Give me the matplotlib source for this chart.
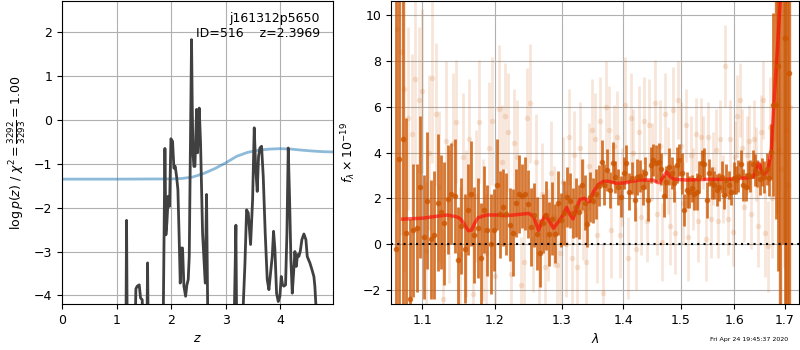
import matplotlib
matplotlib.use('Agg')
import matplotlib.pyplot as plt
from matplotlib.ticker import FormatStrFormatter, NullLocator

plt.rcParams['font.size'] = 9

# --- p(z) panel ---
pz_z = [0.0, 1.10, 1.171, 1.183, 1.196, 1.30, 1.342, 1.354, 1.379, 1.415, 1.44, 1.47, 1.489,
        1.53, 1.558, 1.568, 1.580, 1.70, 1.855, 1.886, 1.904, 1.922, 1.947, 1.971, 1.996,
        2.026, 2.051, 2.075, 2.10, 2.124, 2.148, 2.167, 2.191, 2.209, 2.234, 2.265, 2.289,
        2.313, 2.332, 2.374, 2.386, 2.400, 2.417, 2.436, 2.466, 2.484, 2.515, 2.539, 2.576,
        2.625, 2.649, 2.672, 2.80, 3.155, 3.187, 3.200, 3.25, 3.309, 3.352, 3.383, 3.413,
        3.456, 3.493, 3.523, 3.548, 3.578, 3.602, 3.627, 3.657, 3.688, 3.724, 3.761, 3.792,
        3.822, 3.853, 3.877, 3.902, 3.932, 3.963, 3.993, 4.018, 4.042, 4.067, 4.097, 4.122,
        4.146, 4.171, 4.195, 4.22, 4.244, 4.268, 4.293, 4.317, 4.341, 4.366, 4.396, 4.433,
        4.47, 4.494, 4.519, 4.543, 4.58, 4.616, 4.634, 4.665, 4.70, 4.97]
pz_logp = [-9.0, -8.0, -5.0, -2.29, -5.0, -8.0, -4.6, -3.85, -3.79, -3.76, -4.06, -4.10, -5.0,
           -7.0, -4.6, -3.26, -4.8, -8.0, -4.6, -0.65, -2.62, -2.35, -1.74, -1.97, -0.43,
           -0.49, -1.10, -1.06, -1.29, -1.59, -2.73, -3.72, -2.92, -2.92, -3.79, -4.02, -3.76,
           -3.64, -3.11, 1.83, 0.40, -0.75, -1.06, -1.06, 0.24, -0.75, 0.27, -0.52, -2.58,
           -3.72, -1.70, -4.6, -8.0, -4.6, -2.40, -4.6, -8.0, -4.6, -3.30, -2.05, -2.12,
           -2.84, -1.82, -0.18, -1.06, -1.63, -0.83, -0.64, -0.60, -1.29, -2.58, -3.64, -3.87,
           -3.49, -3.11, -2.54, -2.96, -3.95, -4.14, -4.02, -3.57, -3.76, -3.79, -3.76, -2.58,
           -0.64, -1.82, -3.19, -3.95, -3.49, -3.00, -3.34, -3.07, -3.11, -3.00, -2.73, -2.60,
           -2.73, -3.11, -3.19, -3.26, -3.41, -3.57, -3.79, -4.5, -6.0, -8.0]

prior_z = [0.0, 1.0, 2.0, 2.2, 2.4, 2.6, 2.8, 3.0, 3.2, 3.4, 3.6, 3.8, 4.0, 4.2, 4.4, 4.6, 4.8, 4.97]
prior_logp = [-1.35, -1.35, -1.345, -1.335, -1.30, -1.22, -1.11, -0.98, -0.83, -0.74, -0.69,
              -0.665, -0.655, -0.665, -0.69, -0.71, -0.725, -0.73]

# --- spectrum panel ---
dark_wave = [1.0650, 1.0696, 1.0742, 1.0788, 1.0834, 1.0880, 1.0926, 1.0972, 1.1018, 1.1064,
             1.1110, 1.1156, 1.1202, 1.1248, 1.1294, 1.1340, 1.1386, 1.1432, 1.1478, 1.1524,
             1.1570, 1.1616, 1.1662, 1.1708, 1.1754, 1.1800, 1.1846, 1.1892, 1.1938, 1.1984,
             1.2030, 1.2076, 1.2122, 1.2168, 1.2214, 1.2260, 1.2306, 1.2352, 1.2398, 1.2444,
             1.2490, 1.2536, 1.2582, 1.2628, 1.2674, 1.2720, 1.2766, 1.2812, 1.2858, 1.2904,
             1.2950, 1.2996, 1.3042, 1.3088, 1.3134, 1.3180, 1.3226, 1.3272, 1.3318, 1.3364,
             1.3410, 1.3456, 1.3502, 1.3548, 1.3594, 1.3640, 1.3686, 1.3732, 1.3778, 1.3824,
             1.3870, 1.3916, 1.3962, 1.4008, 1.4054, 1.4100, 1.4146, 1.4192, 1.4238, 1.4284,
             1.4330, 1.4376, 1.4422, 1.4468, 1.4514, 1.4560, 1.4606, 1.4652, 1.4698, 1.4744,
             1.4790, 1.4836, 1.4882, 1.4928, 1.4974, 1.5020, 1.5066, 1.5112, 1.5158, 1.5204,
             1.5250, 1.5296, 1.5342, 1.5388, 1.5434, 1.5480, 1.5526, 1.5572, 1.5618, 1.5664,
             1.5710, 1.5756, 1.5802, 1.5848, 1.5894, 1.5940, 1.5986, 1.6032, 1.6078, 1.6124,
             1.6170, 1.6216, 1.6262, 1.6308, 1.6354, 1.6400, 1.6446, 1.6492, 1.6538, 1.6584,
             1.6630, 1.6676, 1.6722, 1.6768, 1.6814, 1.6860, 1.6906, 1.6952, 1.6998, 1.7044,
             1.7090]
dark_flux = [-0.2, 3.7, 4.6, 0.5, -2.4, 0.6, 0.7, 2.5, 0.3, 1.9,
             0.2, 0.4, 1.8, 1.4, 0.9, 1.95, 2.2, 2.1, -0.7, 0.8,
             -0.2, 1.5, 2.2, 0.4, 0.7, -0.6, 1.5, 0.6, 0.0, 0.6,
             2.6, 1.3, 1.6, 1.3, 0.85, 0.5, 1.8, 2.2, 2.1, 2.2,
             1.75, 0.75, 1.25, 0.45, -0.4, 0.9, 1.25, 0.45, 1.1, 0.45,
             1.8, 1.05, 1.35, 2.05, 1.9, 1.35, 1.6, 1.4, 2.6, 1.8,
             0.87, 2.05, 1.9, 2.2, 2.55, 3.57, 2.6, 3.24, 2.36, 3.56,
             2.94, 2.5, 2.07, 3.09, 3.53, 2.29, 2.87, 1.92, 2.94, 2.97,
             2.5, 3.09, 1.92, 3.45, 3.67, 3.53, 3.6, 3.3, 2.1, 2.73,
             3.38, 3.09, 2.65, 3.45, 3.67, 3.09, 1.49, 2.36, 2.29, 2.43,
             2.2, 2.29, 2.94, 3.53, 3.5, 1.92, 3.12, 2.65, 2.58, 2.36,
             2.5, 2.94, 2.14, 2.8, 2.58, 2.29, 2.87, 2.8, 2.97, 3.5,
             2.58, 2.5, 3.02, 2.97, 3.5, 3.24, 3.09, 2.83, 3.16, 2.94,
             3.3, 2.9, 4.04, 6.1, 6.1, 7.8, 12.0, 15.0, 9.0, 11.0,
             7.5]
dark_err = [15, 15, 15, 5.0, 3.5, 2.9, 2.8, 3.1, 2.7, 3.0,
            2.6, 2.8, 3.0, 2.5, 2.7, 2.4, 2.2, 2.5, 2.3, 2.1,
            2.4, 2.0, 2.3, 2.1, 2.2, 2.4, 1.9, 2.0, 2.2, 1.8,
            2.0, 1.9, 1.7, 1.8, 1.6, 1.9, 1.5, 1.7, 1.4, 1.6,
            1.5, 1.7, 1.4, 1.6, 1.5, 1.3, 1.5, 1.4, 1.6, 1.3,
            1.4, 1.2, 1.4, 1.3, 1.2, 1.1, 1.3, 1.2, 1.1, 1.2,
            1.0, 1.1, 1.0, 1.1, 0.9, 1.0, 0.9, 0.9, 0.8, 0.9,
            0.7, 0.8, 0.9, 0.7, 0.8, 0.8, 0.7, 0.9, 0.8, 0.7,
            0.8, 0.7, 0.9, 0.8, 0.7, 0.8, 0.8, 0.7, 0.9, 0.7,
            0.8, 0.7, 0.8, 0.8, 0.7, 0.9, 0.7, 0.8, 0.7, 0.6,
            0.7, 0.8, 0.7, 0.6, 0.7, 0.8, 0.6, 0.7, 0.6, 0.7,
            0.6, 0.7, 0.6, 0.7, 0.6, 0.6, 0.7, 0.6, 0.7, 0.6,
            0.7, 0.6, 0.6, 0.7, 0.6, 0.7, 0.6, 0.7, 0.6, 0.7,
            0.7, 0.8, 1.2, 4.0, 5.0, 9.0, 15, 15, 15, 15,
            15]

light_wave = [1.0673, 1.0719, 1.0765, 1.0811, 1.0857, 1.0903, 1.0949, 1.0995, 1.1041, 1.1087,
              1.1133, 1.1179, 1.1225, 1.1271, 1.1317, 1.1363, 1.1409, 1.1455, 1.1501, 1.1547,
              1.1593, 1.1639, 1.1685, 1.1731, 1.1777, 1.1823, 1.1869, 1.1915, 1.1961, 1.2007,
              1.2053, 1.2099, 1.2145, 1.2191, 1.2237, 1.2283, 1.2329, 1.2375, 1.2421, 1.2467,
              1.2513, 1.2559, 1.2605, 1.2651, 1.2697, 1.2743, 1.2789, 1.2835, 1.2881, 1.2927,
              1.2973, 1.3019, 1.3065, 1.3111, 1.3157, 1.3203, 1.3249, 1.3295, 1.3341, 1.3387,
              1.3433, 1.3479, 1.3525, 1.3571, 1.3617, 1.3663, 1.3709, 1.3755, 1.3801, 1.3847,
              1.3893, 1.3939, 1.3985, 1.4031, 1.4077, 1.4123, 1.4169, 1.4215, 1.4261, 1.4307,
              1.4353, 1.4399, 1.4445, 1.4491, 1.4537, 1.4583, 1.4629, 1.4675, 1.4721, 1.4767,
              1.4813, 1.4859, 1.4905, 1.4951, 1.4997, 1.5043, 1.5089, 1.5135, 1.5181, 1.5227,
              1.5273, 1.5319, 1.5365, 1.5411, 1.5457, 1.5503, 1.5549, 1.5595, 1.5641, 1.5687,
              1.5733, 1.5779, 1.5825, 1.5871, 1.5917, 1.5963, 1.6009, 1.6055, 1.6101, 1.6147,
              1.6193, 1.6239, 1.6285, 1.6331, 1.6377, 1.6423, 1.6469, 1.6515, 1.6561, 1.6607,
              1.6653, 1.6699, 1.6745, 1.6791, 1.6837, 1.6883, 1.6929, 1.6975, 1.7021, 1.7067,
              1.7113]
light_flux = [9.4, 8.4, 6.8, 5.5, 4.8, 7.2, 6.3, 6.7, -0.3, 4.0,
              7.25, 5.7, 2.5, -2.4, 4.5, 1.2, 4.4, 5.35, -0.5, 3.8,
              0.9, 4.6, -2.2, 2.1, 5.35, 0.6, -0.4, 4.2, 5.4, -1.4,
              5.9, 3.6, 5.6, 4.9, -1.3, 4.4, 3.8, -1.8, -0.8, 5.5,
              6.15, 0.2, 3.6, -0.4, 2.2, -1.0, 0.4, 3.1, 1.2, -0.9,
              -0.4, 2.7, 0.0, 4.7, -0.6, 3.9, -1.0, 4.2, 1.5, -0.8,
              3.4, 5.0, 4.6, 0.4, 5.4, -2.15, 6.0, 5.0, 0.6, 4.3,
              4.7, 0.4, 2.5, 6.1, -0.6, 5.5, 4.0, -0.2, 4.9, 1.2,
              5.4, 1.0, 5.2, 3.6, 6.15, 1.3, 4.3, 0.1, 5.7, 3.2,
              0.8, 5.86, 0.5, 6.3, 4.3, 1.8, 5.2, 0.3, 3.9, 2.4,
              4.8, 1.0, 4.7, 4.0, 0.2, 4.7, 1.1, 3.3, 4.1, 1.0,
              4.6, 2.4, 7.8, 1.1, 4.6, 0.54, 3.8, 5.6, 6.3, 4.2,
              1.6, 3.9, 4.5, 1.3, 4.6, 3.5, 0.8, 4.9, 6.3, 0.47,
              -0.1, 5.1, 2.0, 8.0, 6.3, 4.1, 3.3, 9.0, 5.0, 2.6,
              6.0]
light_err = [8, 8, 8, 4.0, 3.5, 3.8, 3.2, 3.6, 3.0, 3.4,
             3.7, 3.1, 3.3, 3.0, 3.5, 2.9, 3.1, 2.7, 3.0, 2.8,
             3.2, 2.6, 3.0, 2.9, 2.7, 3.1, 2.6, 2.9, 2.8, 2.6,
             2.8, 2.5, 2.3, 2.6, 2.2, 2.4, 2.5, 2.1, 2.4, 2.2,
             2.6, 2.3, 2.1, 2.5, 2.2, 2.4, 2.0, 2.3, 2.2, 2.1,
             2.4, 2.0, 2.3, 2.1, 2.2, 1.9, 2.3, 2.0, 2.2, 2.1,
             1.9, 2.2, 2.0, 2.1, 1.9, 2.2, 2.0, 1.9, 2.1, 1.8,
             2.0, 1.9, 1.7, 2.1, 1.8, 2.0, 1.9, 1.8, 2.0, 1.7,
             1.9, 1.8, 2.0, 1.7, 1.9, 1.8, 2.0, 1.7, 1.8, 1.9,
             1.7, 1.9, 1.8, 1.7, 1.9, 1.8, 1.6, 1.9, 1.7, 1.8,
             1.6, 1.8, 1.7, 1.6, 1.8, 1.5, 1.7, 1.6, 1.8, 1.6,
             1.7, 1.5, 1.8, 1.6, 1.7, 1.5, 1.6, 1.8, 1.6, 1.7,
             1.5, 1.7, 1.6, 1.5, 1.7, 1.6, 1.8, 1.6, 1.7, 1.9,
             2.0, 2.2, 2.6, 3.5, 5.0, 7.0, 9.0, 10, 10, 10,
             10]

model_wave = [1.074, 1.100, 1.120, 1.133, 1.145, 1.151, 1.157, 1.1625, 1.167, 1.171, 1.176,
              1.188, 1.203, 1.217, 1.237, 1.250, 1.257, 1.2645, 1.270, 1.275, 1.280, 1.2875,
              1.293, 1.2985, 1.303, 1.308, 1.313, 1.318, 1.323, 1.329, 1.336, 1.3445, 1.351,
              1.3585, 1.367, 1.375, 1.389, 1.405, 1.411, 1.428, 1.451, 1.458, 1.4625, 1.466,
              1.4705, 1.475, 1.4805, 1.4865, 1.495, 1.510, 1.547, 1.585, 1.610, 1.636, 1.641,
              1.648, 1.654, 1.659, 1.6656, 1.6724, 1.6771, 1.6858, 1.6906, 1.697]
model_flux = [1.09, 1.13, 1.22, 1.27, 1.2, 1.12, 0.85, 0.58, 0.62, 0.9, 1.15,
              1.27, 1.27, 1.24, 1.3, 1.34, 1.2, 0.6, 1.0, 1.27, 1.05, 0.69,
              0.9, 1.1, 1.3, 1.6, 1.3, 1.1, 1.5, 1.95, 2.0, 1.85, 2.3,
              2.6, 2.74, 2.75, 2.65, 2.68, 2.73, 2.8, 2.8, 2.7, 2.68, 2.82,
              3.0, 3.16, 2.97, 2.85, 2.82, 2.8, 2.83, 2.83, 2.87, 2.92, 3.2,
              3.53, 3.09, 3.05, 3.24, 4.1, 6.0, 8.9, 10.7, 13.0]

target = 'j161312p5650'
obj_id = 516
z_best = 2.3969
chi2_num, chi2_den = 3292, 3293

fig = plt.figure(figsize=(8, 3.5), dpi=100)
ax1 = fig.add_axes([0.0775, 0.131, 0.339, 0.866])
ax2 = fig.add_axes([0.489, 0.131, 0.51, 0.866])

ax1.plot(prior_z, prior_logp, color='#1f77b4', alpha=0.5, lw=2)
ax1.plot(pz_z, pz_logp, color='0.25', lw=2)
ax1.set_xlim(0, 4.97)
ax1.set_ylim(-4.2, 2.71)
ax1.set_yticks([-4, -3, -2, -1, 0, 1, 2])
ax1.grid()
ax1.set_xlabel('$z$')
ax1.set_ylabel(r'$\log p(z)$ / $\chi^2=\frac{%d}{%d}=%.2f$' % (chi2_num, chi2_den, chi2_num / chi2_den))
ax1.text(0.95, 0.965, '%s\nID=%d    z=%.4f' % (target, obj_id, z_best),
         transform=ax1.transAxes, ha='right', va='top')

orange = '#cc5500'
ax2.errorbar(light_wave, light_flux, yerr=light_err, fmt='o', color=orange, alpha=0.15,
             ms=4, mec='none', elinewidth=2)
ax2.errorbar(dark_wave, dark_flux, yerr=dark_err, fmt='o', color=orange, alpha=0.8,
             ms=4, mec='none', elinewidth=2)
ax2.plot(model_wave, model_flux, color='red', alpha=0.6, lw=2.5)
ax2.axhline(0, color='k', ls=(0, (1, 2)), lw=1.5)
ax2.set_xscale('log')
ax2.set_xticks([1.1, 1.2, 1.3, 1.4, 1.5, 1.6, 1.7])
ax2.xaxis.set_major_formatter(FormatStrFormatter('%.1f'))
ax2.xaxis.set_minor_locator(NullLocator())
ax2.set_xlim(1.0595, 1.7294)
ax2.set_ylim(-2.63, 10.63)
ax2.set_yticks([-2, 0, 2, 4, 6, 8, 10])
ax2.grid()
ax2.set_xlabel(r'$\lambda$')
ax2.set_ylabel(r'$f_\lambda\times10^{-19}$')

fig.text(0.985, 0.031, 'Fri Apr 24 19:45:37 2020', ha='right', va='center', fontsize=4.5)

fig.savefig('out.png', dpi=100)
